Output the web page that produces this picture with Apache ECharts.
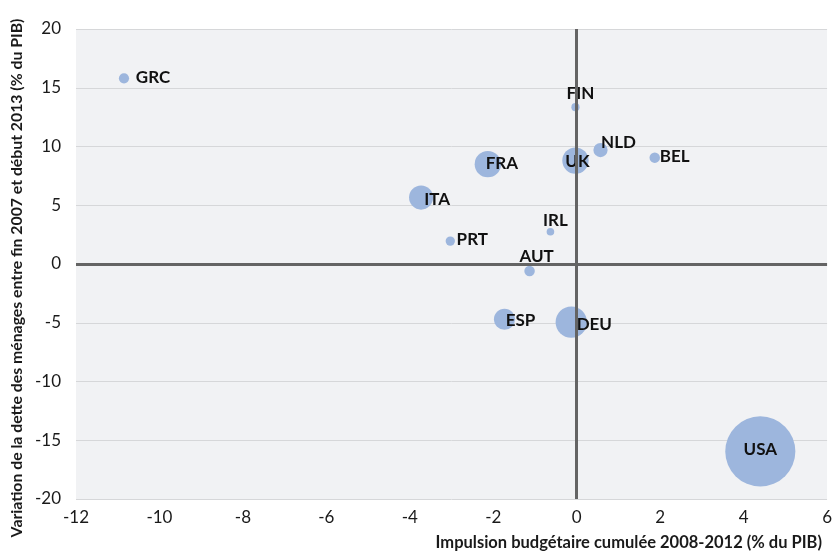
<!DOCTYPE html>
<html>
<head>
<meta charset="utf-8">
<script src="https://cdn.jsdelivr.net/npm/echarts@6/dist/echarts.min.js"></script>
<style>
  html, body { margin: 0; padding: 0; background: #fff; }
  #chart { width: 835px; height: 555px; }
</style>
</head>
<body>
<div id="chart"></div>
<script>
// pays et valeurs
const pays = ["GRC", "FIN", "NLD", "BEL", "UK", "FRA", "ITA", "IRL", "PRT", "AUT", "ESP", "DEU", "USA"];
const impulsion = [-10.85, -0.03, 0.57, 1.87, -0.03, -2.13, -3.73, -0.63, -3.03, -1.13, -1.73, -0.13, 4.4];
const detteMenages = [15.8, 13.35, 9.7, 9.05, 8.8, 8.5, 5.65, 2.75, 1.95, -0.6, -4.7, -4.95, -15.95];
const poids = [0.36, 0.23, 0.7, 0.38, 2.4, 2.4, 2.0, 0.2, 0.3, 0.38, 1.55, 3.4, 17];
// décalage des étiquettes (px) par rapport au centre de la bulle
const decalX = [29, 5, 18, 20, 2, 14, 16, 5, 22, 7, 16, 23, 0];
const decalY = [-1, -14, -8, -1, 1, -1, 2, -11, -2, -15, 1, 2, -2];

const xTicks = { min: -12, max: 6, interval: 2 };
const yTicks = { min: -20, max: 20, interval: 5 };

let chart = echarts.init(document.getElementById("chart"));
let fontFamily = "Lato, 'Open Sans', sans-serif";

let data = [];
for (let i = 0; i < pays.length; i++) {
  data.push({
    name: pays[i],
    value: [impulsion[i], detteMenages[i], poids[i]],
    label: { offset: [decalX[i], decalY[i]] }
  });
}

let option = {
  animation: false,
  backgroundColor: "#ffffff",
  grid: {
    left: 76,
    right: 7,
    top: 29,
    bottom: 56,
    show: true,
    backgroundColor: "#f1f2f4",
    borderWidth: 0
  },
  xAxis: {
    type: "value",
    min: xTicks.min,
    max: xTicks.max,
    interval: xTicks.interval,
    axisLine: { show: false },
    axisTick: { show: false },
    splitLine: { show: false },
    axisLabel: { color: "#1a1a1a", fontSize: 17, fontFamily, margin: 10 }
  },
  yAxis: {
    type: "value",
    min: yTicks.min,
    max: yTicks.max,
    interval: yTicks.interval,
    axisLine: { show: false },
    axisTick: { show: false },
    splitLine: { lineStyle: { color: "#d6d7d9", width: 1 } },
    axisLabel: { color: "#1a1a1a", fontSize: 17, fontFamily, margin: 15 }
  },
  graphic: [
    {
      type: "text",
      right: 13,
      top: 534,
      style: {
        text: "Impulsion budgétaire cumulée 2008-2012 (% du PIB)",
        fontSize: 16.5,
        fontWeight: "bold",
        fontFamily,
        fill: "#1a1a1a"
      }
    },
    {
      type: "text",
      x: 17,
      y: 278,
      rotation: Math.PI / 2,
      style: {
        text: "Variation de la dette des ménages entre fin 2007 et début 2013 (% du PIB)",
        fontSize: 15.8,
        fontWeight: "bold",
        fontFamily,
        fill: "#1a1a1a",
        align: "center",
        verticalAlign: "middle"
      }
    }
  ],
  series: [
    {
      type: "scatter",
      symbolSize: (v) => 17 * Math.sqrt(v[2]),
      itemStyle: { color: "#9db6dd", opacity: 1 },
      label: {
        show: true,
        position: "inside",
        formatter: "{b}",
        color: "#111",
        fontSize: 17,
        fontWeight: "bold",
        fontFamily
      },
      markLine: {
        silent: true,
        symbol: "none",
        label: { show: false },
        lineStyle: { color: "#646464", width: 3, type: "solid" },
        data: [{ xAxis: 0 }, { yAxis: 0 }]
      },
      data
    }
  ]
};
chart.setOption(option);
</script>
</body>
</html>
